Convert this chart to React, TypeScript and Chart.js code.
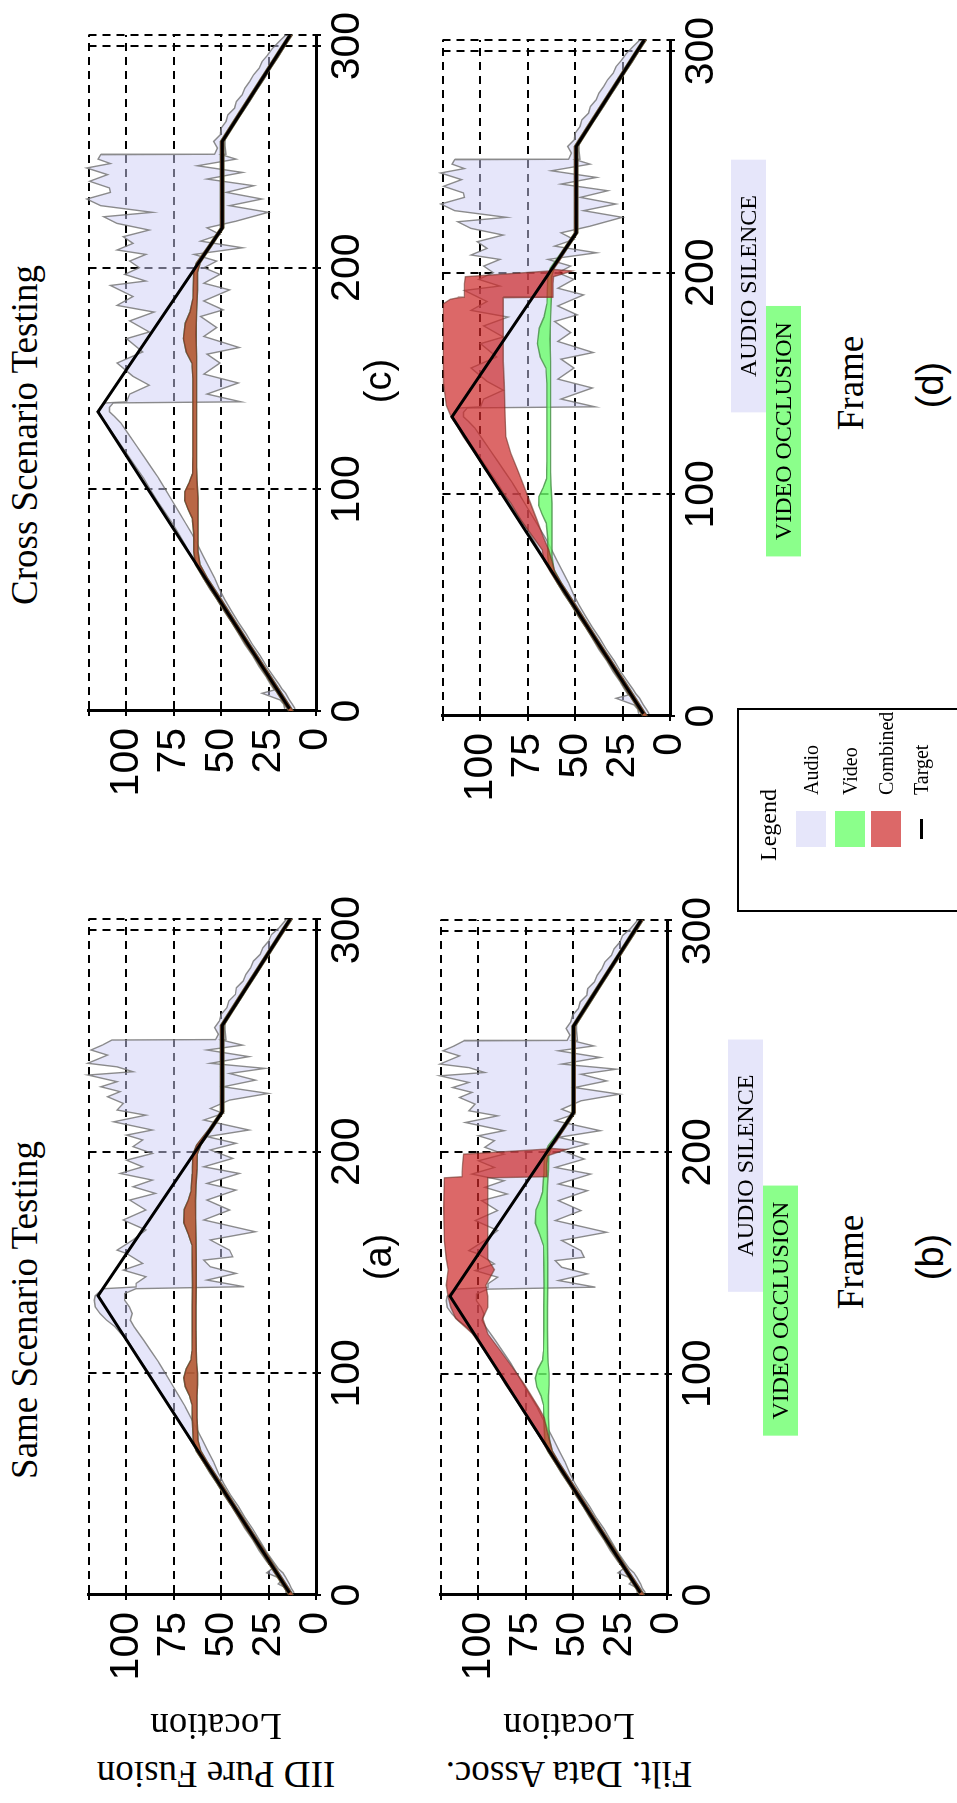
import React, { useEffect, useRef } from 'react';
import { Chart, registerables } from 'chart.js';

Chart.register(...registerables);

const SANS = '"Liberation Sans", Arial, Helvetica, sans-serif';
const SERIF = '"Liberation Serif", "Times New Roman", Times, serif';

// ---- axes ----
const FRAME_TICKS = [0, 100, 200, 300, 305];
const LOCATION_TICKS = [0, 25, 50, 75, 100, 120];
const FRAME_MAX = 305;
const LOCATION_MAX = 120;

// ---- sensor outage windows (frames) ----
const AUDIO_SILENCE = [137, 251];
const VIDEO_OCCLUSION = [72, 185];

// ---- ground truth trajectory [frame, location] ----
const target = [[1, 14], [135, 115], [218, 49.5], [257, 49.5], [305, 13.6]];

// ---- audio tracker, same-scenario test ----
const audioSameUpper = [
  [1, 16], [3, 15.5], [5, 20], [7, 17.5], [10, 26], [12, 23], [15, 26], [20, 30], [25, 33.5], [30, 37.5],
  [35, 41], [40, 44.5], [45, 48.5], [50, 52], [55, 56], [60, 59.5], [65, 63], [70, 66.5], [75, 70], [80, 73.5],
  [85, 77], [90, 81], [95, 84.5], [100, 88], [105, 92], [110, 96], [115, 99.5], [118, 103], [121, 106],
  [124, 110.5], [127, 114], [130, 116.5], [133, 117], [135, 116.5], [137, 114], [138.2, 112],
  [139, 94.9], [140.6, 94.9], [143.6, 89.8], [146.6, 101.7], [149.6, 91.5], [154.1, 100], [155.6, 105],
  [160.2, 96.6], [164.7, 89.8], [169.2, 101.7], [173.7, 89.8], [178.2, 98.3], [181.2, 84.7], [184.2, 96.6],
  [187.2, 86.4], [190.2, 103.4], [193.2, 91.5], [196.2, 100], [199.2, 86.4], [202.3, 96.6], [205.3, 91.5],
  [207.5, 100], [209.8, 86.4], [213.5, 106.8], [216.5, 89.8], [218.8, 105], [221.8, 101.7], [224.8, 110],
  [227.1, 103.4], [229.3, 113.6], [231.6, 105], [234.6, 120.4], [236.1, 96.6], [238.3, 105], [239.9, 120.4],
  [243.6, 110], [245.9, 118.7], [248.1, 112.8], [250.4, 107.7],
  [250.6, 53], [253, 51.5], [256, 53.5], [259, 51], [262, 50], [265, 47], [268, 46], [271, 42.5], [274, 42],
  [277, 38.5], [280, 37], [283, 34.5], [286, 33], [289, 29.5], [292, 28], [295, 25], [298, 23.5], [301, 19.5],
  [305, 15.5],
];
const audioSameLower = [
  [1, 11.5], [3, 13], [5, 14], [8, 16], [10, 17.5], [12, 20], [15, 22.5], [20, 26.5], [25, 30], [30, 33.5],
  [35, 37.5], [40, 41], [45, 45], [50, 48.5], [55, 51.5], [60, 54], [65, 57], [70, 60], [75, 63], [80, 66],
  [85, 69], [90, 72.5], [95, 76], [100, 79.5], [105, 83], [110, 87], [115, 91], [118, 93.5], [121, 96],
  [124, 98], [127, 97], [130, 98.5], [133, 101], [136, 101], [138.2, 95],
  [139.1, 37.9], [142.1, 57.5], [145.1, 42.2], [148.1, 55.8], [151.1, 59.2], [152.6, 43.9], [155.6, 45.6],
  [160.2, 55.8], [163.9, 32], [169.2, 59.2], [173.7, 45.6], [178.2, 57.5], [182.7, 42.2], [185.7, 57.5],
  [190.2, 40.5], [193.2, 59.2], [197, 43.9], [200.8, 55.8], [203.8, 42.2], [206.8, 57.5], [209.8, 35.4],
  [214.3, 59.2], [217.3, 49], [219.5, 55.8], [223.3, 45.6], [226.3, 25.2], [229.3, 49], [232.3, 32],
  [235.3, 45.6], [237.6, 26.9], [239.9, 55.8], [242.9, 35.4], [245.9, 57.5], [248.1, 38.8], [250.4, 49.8],
  [250.6, 47.5], [255, 48], [258, 48], [262, 45.5], [266, 42], [270, 39], [275, 35.5], [280, 31.5],
  [285, 28], [290, 24], [295, 20.5], [300, 16.5], [305, 13],
];

// ---- audio tracker, cross-scenario test ----
const audioCrossUpper = [
  [1, 16.5], [3, 17], [5, 19], [8, 28.5], [9.5, 22], [12, 24], [15, 26], [20, 30], [25, 33.5], [30, 37.5],
  [35, 41], [40, 44.5], [45, 48.5], [50, 52], [55, 56], [60, 59.5], [65, 62.5], [70, 66], [75, 69], [80, 72.5],
  [85, 76], [90, 80], [95, 84], [100, 87.5], [105, 91], [110, 95], [115, 99], [120, 103], [125, 107],
  [130, 111], [133, 114], [135, 115.5], [137, 114], [139, 111],
  [139.5, 100], [143, 98.3], [147, 88], [151, 96.6], [157, 105], [162, 91.5], [168, 100], [171, 88],
  [176, 98.3], [180, 85.5], [183, 105], [187, 96.6], [192, 108.5], [194, 89.8], [197, 100.9], [200, 93.2],
  [203, 98.3], [206, 89.8], [208, 105], [211, 96.6], [214, 101.7], [217, 88], [220, 105], [223, 112],
  [225, 86.4], [228, 113.6], [231, 121], [234, 108.5], [236, 109], [239, 119.5], [242, 110], [245, 121],
  [247, 108.5], [249, 115], [251, 113.6],
  [251.2, 53.5], [254, 52], [257, 54], [260, 50.5], [263, 50], [266, 47.5], [269, 46.5], [272, 43],
  [275, 42], [278, 39], [281, 37.5], [284, 35], [287, 33], [290, 30], [293, 28.5], [296, 25.5], [299, 23],
  [302, 19.5], [305, 16],
];
const audioCrossLower = [
  [1, 11], [3, 12.5], [5, 14], [8, 16], [10, 18], [12, 19.5], [15, 22], [20, 26], [25, 29.5], [30, 33.5],
  [35, 37], [40, 41], [45, 44.5], [50, 48], [55, 51], [60, 53.5], [65, 56.5], [70, 59.5], [75, 62.5],
  [80, 65.5], [85, 69], [90, 72.5], [95, 76], [100, 79.5], [105, 83], [110, 87], [115, 91], [120, 95],
  [125, 99], [130, 103], [133, 106.5], [135, 109], [137, 109], [139, 107],
  [139.5, 39.6], [143, 57.5], [148, 41], [152, 59.2], [157, 50.7], [161, 57.5], [164, 40.5], [169, 59.2],
  [173, 52.4], [178, 60.9], [181, 49], [185, 59.2], [190, 45.6], [193, 59.2], [197, 50.7], [200, 59.2],
  [203, 52.4], [206, 64.3], [209, 38.8], [212, 60.9], [215, 50.7], [218, 57.5], [221, 42.2], [225, 25.2],
  [228, 45.6], [231, 28.6], [234, 47.3], [237, 32.8], [240, 57.5], [243, 38.8], [246, 62.6], [249, 42.2],
  [251, 49.8],
  [251.2, 47.5], [255, 48], [258, 48], [262, 45.5], [266, 42.5], [270, 39], [275, 35], [280, 31.5],
  [285, 27.5], [290, 24], [295, 20], [300, 16.5], [305, 13],
];

// ---- video tracker, same-scenario test ----
const videoSameUpper = [
  [0, 14.3], [10, 21.8], [20, 29.3], [30, 36.9], [40, 44.4], [50, 51.9], [60, 59.5], [65, 63.2], [70, 64.8],
  [80, 65.3], [86, 65.5], [90, 66.8], [94, 69], [98, 69.8], [102, 68.5], [106, 66], [110, 65.5], [120, 65.3],
  [130, 65.3], [140, 65.2], [150, 65.3], [158, 65.5], [163, 67.5], [168, 69.8], [174, 69.5], [178, 67.5],
  [182, 66], [190, 65.3], [199, 65], [203, 63], [210, 56.7], [218, 50.4], [257, 50.4], [270, 40.7],
  [280, 33.2], [290, 25.7], [300, 18.2], [305, 14.4],
];
const videoSameLower = [
  [0, 12], [10, 19.6], [20, 27.1], [30, 34.7], [40, 42.2], [50, 49.7], [60, 57.3], [65, 60.8], [70, 62.3],
  [80, 62.8], [90, 62.8], [95, 62.5], [100, 62.5], [105, 63], [110, 63.2], [120, 63.3], [130, 63.3],
  [140, 63.2], [150, 63.2], [160, 63.3], [170, 63.5], [178, 63.6], [185, 63.3], [192, 62.8], [199, 62.6],
  [203, 60.8], [210, 54.9], [218, 48.6], [257, 48.6], [270, 38.9], [280, 31.4], [290, 23.9], [300, 16.4],
  [305, 12.6],
];

// ---- video tracker, cross-scenario test ----
const videoCrossUpper = [
  [0, 14.3], [10, 21.8], [20, 29.3], [30, 36.9], [40, 44.4], [50, 51.9], [60, 59.5], [66, 63.6], [72, 64.5],
  [80, 64.5], [87, 65.3], [91, 67.5], [95, 69.3], [99, 69.2], [103, 67], [107, 65.2], [115, 65], [130, 65],
  [150, 65], [157, 65.5], [162, 68.5], [168, 70], [175, 69], [180, 66.5], [186, 65], [198, 64.5],
  [202, 63.2], [210, 56.7], [218, 50.4], [257, 50.4], [270, 40.7], [280, 33.2], [290, 25.7], [300, 18.2],
  [305, 14.4],
];
const videoCrossLower = [
  [0, 12], [10, 19.6], [20, 27.1], [30, 34.7], [40, 42.2], [50, 49.7], [60, 57.3], [66, 61.2], [72, 62.3],
  [80, 62.3], [88, 62.3], [96, 62.3], [104, 62.8], [110, 63], [130, 63], [150, 63], [160, 63], [170, 63.3],
  [180, 63], [190, 62.5], [198, 62.5], [202, 61.2], [210, 54.9], [218, 48.6], [257, 48.6], [270, 38.9],
  [280, 31.4], [290, 23.9], [300, 16.4], [305, 12.6],
];

// ---- combined estimate with filtered data association ----
const filtSameUpper = [
  [0, 14.3], [10, 21.8], [20, 29.3], [30, 36.9], [40, 44.4], [50, 51.9], [60, 59.5], [65, 63.2], [70, 66.5],
  [76, 71], [80, 74], [88, 79.8], [95, 85.5], [103, 91], [110, 96.5], [118, 103], [125, 112], [130, 114.6],
  [134.6, 116], [140, 117], [147, 116], [152, 117], [160, 118], [175, 118.4], [188.5, 118], [189, 108.7],
  [195, 108.3], [199.2, 107.8], [201.5, 63.5], [205, 60.3], [210, 56.7], [218, 50.4], [257, 50.4],
  [270, 40.7], [280, 33.2], [290, 25.7], [300, 18.2], [305, 14.4],
];
const filtSameLower = [
  [0, 12], [10, 19.6], [20, 27.1], [30, 34.7], [40, 42.2], [50, 49.7], [60, 57.3], [65, 60.8], [70, 62.3],
  [76, 64], [80, 65], [84, 67.5], [88, 70.4], [95, 75.5], [103, 82], [110, 88], [118, 95], [125, 97.6],
  [130, 95], [135, 95], [140, 96], [147, 91.5], [152, 95], [160, 95], [175, 95], [188.5, 95], [189, 63.6],
  [195, 63.6], [198.5, 63.2], [201.3, 53.4], [201.8, 61.6], [205, 58.6], [210, 54.9], [218, 48.6],
  [257, 48.6], [270, 38.9], [280, 31.4], [290, 23.9], [300, 16.4], [305, 12.6],
];
const filtCrossUpper = [
  [0, 14.3], [10, 21.8], [20, 29.3], [30, 36.9], [40, 44.4], [50, 51.9], [60, 59.5], [65, 63.2], [70, 66.5],
  [75, 67.5], [81, 72.5], [88.4, 78.7], [96, 84], [103.5, 90.6], [111, 97.5], [118.5, 103], [126, 109],
  [131, 112.5], [135, 115.5], [140, 118], [150, 119.5], [160, 119.6], [175, 119.6], [186, 119.6],
  [188, 116], [188.7, 112], [189, 108.5], [195, 108.5], [198.2, 108], [200.8, 63.5], [205, 60.3],
  [210, 56.7], [218, 50.4], [257, 50.4], [270, 40.7], [280, 33.2], [290, 25.7], [300, 18.2], [305, 14.4],
];
const filtCrossLower = [
  [0, 12], [10, 19.6], [20, 27.1], [30, 34.7], [40, 42.2], [50, 49.7], [60, 57.3], [65, 60.8], [70, 62.3],
  [75, 64], [81, 67], [88.4, 70.2], [96, 73.6], [103.5, 77], [111, 80.4], [118.5, 84], [126, 86.6],
  [135, 87], [150, 87.5], [160, 88], [175, 88], [188.7, 88], [189, 61.7], [195, 61.7], [198.2, 61.5],
  [200.8, 51.5], [201.5, 61.5], [205, 58.6], [210, 54.9], [218, 48.6], [257, 48.6], [270, 38.9],
  [280, 31.4], [290, 23.9], [300, 16.4], [305, 12.6],
];

// ---- colours ----
const AUDIO_FILL = 'rgba(205,205,245,0.5)';
const AUDIO_EDGE = 'rgba(120,120,120,0.85)';
const VIDEO_FILL = 'rgba(110,255,110,0.8)';
const VIDEO_EDGE = 'rgba(70,140,70,0.8)';
const COMBINED_FILL = 'rgba(205,40,40,0.7)';
const COMBINED_EDGE = 'rgba(110,50,40,0.6)';
const AUDIO_SWATCH = 'rgb(230,230,250)';
const VIDEO_SWATCH = 'rgb(139,255,139)';
const COMBINED_SWATCH = 'rgb(220,104,104)';

const xy = (pts: number[][]) => pts.map(([x, y]) => ({ x, y }));

function band(lower: number[][], upper: number[][], fill: string, edge: string, order: number) {
  const common = { borderColor: edge, borderWidth: 1.4, backgroundColor: fill, pointRadius: 0, tension: 0, order, clip: 10 };
  return [
    { ...common, data: xy(lower), fill: false },
    { ...common, data: xy(upper), fill: '-1' },
  ];
}

// strips marking the outage windows under the frame axis
const outageStrips = {
  id: 'outageStrips',
  afterDraw(chart: any, _args: any, opts: any) {
    const strips = opts && opts.strips;
    if (!strips) return;
    const { ctx, chartArea } = chart;
    const xs = chart.scales.x;
    ctx.save();
    for (const s of strips) {
      const l = xs.getPixelForValue(s.range[0]);
      const r = xs.getPixelForValue(s.range[1]);
      const top = chartArea.bottom + s.offset;
      ctx.fillStyle = s.color;
      ctx.fillRect(l, top, r - l, s.height);
      ctx.fillStyle = '#000';
      ctx.font = `24px ${SERIF}`;
      ctx.textAlign = 'center';
      ctx.textBaseline = 'middle';
      ctx.fillText(s.label, (l + r) / 2, top + s.height / 2 + 1);
    }
    ctx.restore();
  },
};

type Area = { left: number; top: number; right: number; bottom: number };
type PanelCfg = {
  id: string;
  area: Area;
  audio: number[][][];
  video: number[][][];
  combined: number[][][];
  strips: boolean;
};

const PAD = { left: 120, top: 30, right: 30 };
const X_AXIS_H = 60;

const PANELS: PanelCfg[] = [
  { id: 'a', area: { left: 208, top: 82, right: 884, bottom: 316 }, audio: [audioSameLower, audioSameUpper], video: [videoSameLower, videoSameUpper], combined: [videoSameLower, videoSameUpper], strips: false },
  { id: 'c', area: { left: 1092, top: 82, right: 1768, bottom: 316 }, audio: [audioCrossLower, audioCrossUpper], video: [videoCrossLower, videoCrossUpper], combined: [videoCrossLower, videoCrossUpper], strips: false },
  { id: 'b', area: { left: 208, top: 434, right: 883, bottom: 667 }, audio: [audioSameLower, audioSameUpper], video: [videoSameLower, videoSameUpper], combined: [filtSameLower, filtSameUpper], strips: true },
  { id: 'd', area: { left: 1087, top: 436, right: 1763, bottom: 670 }, audio: [audioCrossLower, audioCrossUpper], video: [videoCrossLower, videoCrossUpper], combined: [filtCrossLower, filtCrossUpper], strips: true },
];

function padBottom(p: PanelCfg) {
  return p.strips ? 140 : 70;
}

function buildConfig(p: PanelCfg): any {
  const datasets = [
    { data: xy(target), borderColor: '#000', borderWidth: 3, pointRadius: 0, tension: 0, fill: false, order: 1, clip: 10 },
    ...band(p.combined[0], p.combined[1], COMBINED_FILL, COMBINED_EDGE, 2),
    ...band(p.video[0], p.video[1], VIDEO_FILL, VIDEO_EDGE, 3),
    ...band(p.audio[0], p.audio[1], AUDIO_FILL, AUDIO_EDGE, 4),
  ];
  const tickFont = { family: SANS, size: 41, lineHeight: 1.2 };
  const gridCommon = { color: '#000', lineWidth: 2, tickLength: 5, tickColor: '#000', tickWidth: 2, tickBorderDash: [] };
  const borderCommon = { display: true, color: '#000', width: 3, dash: [8, 6] };
  return {
    type: 'line',
    data: { datasets },
    plugins: [outageStrips],
    options: {
      animation: false,
      responsive: false,
      maintainAspectRatio: false,
      devicePixelRatio: 1,
      events: [],
      layout: { padding: { left: 0, top: PAD.top, right: PAD.right, bottom: padBottom(p) - X_AXIS_H } },
      plugins: {
        legend: { display: false },
        tooltip: { enabled: false },
        outageStrips: p.strips
          ? {
              strips: [
                { range: AUDIO_SILENCE, label: 'AUDIO SILENCE', color: AUDIO_SWATCH, offset: 61, height: 35 },
                { range: VIDEO_OCCLUSION, label: 'VIDEO OCCLUSION', color: VIDEO_SWATCH, offset: 96, height: 35 },
              ],
            }
          : {},
      },
      scales: {
        x: {
          type: 'linear',
          min: 0,
          max: FRAME_MAX,
          afterBuildTicks: (s: any) => { s.ticks = FRAME_TICKS.map((value) => ({ value })); },
          afterFit: (s: any) => { s.height = X_AXIS_H; },
          ticks: { autoSkip: false, maxRotation: 0, minRotation: 0, padding: 2, color: '#000', font: tickFont,
            callback: (v: number) => (v === FRAME_MAX ? '' : String(v)) },
          grid: gridCommon,
          border: borderCommon,
        },
        y: {
          type: 'linear',
          min: 0,
          max: LOCATION_MAX,
          afterBuildTicks: (s: any) => { s.ticks = LOCATION_TICKS.map((value) => ({ value })); },
          afterFit: (s: any) => { s.width = PAD.left; },
          ticks: { autoSkip: false, padding: 12, color: '#000', font: tickFont,
            callback: (v: number) => (v === LOCATION_MAX ? '' : String(v)) },
          grid: gridCommon,
          border: borderCommon,
        },
      },
    },
  };
}

function Panel({ p }: { p: PanelCfg }) {
  const ref = useRef<HTMLCanvasElement>(null);
  const w = p.area.right - p.area.left + PAD.left + PAD.right;
  const h = p.area.bottom - p.area.top + PAD.top + padBottom(p);
  useEffect(() => {
    const chart = new Chart(ref.current as HTMLCanvasElement, buildConfig(p));
    return () => chart.destroy();
  }, []);
  return (
    <canvas
      ref={ref}
      width={w}
      height={h}
      style={{ position: 'absolute', left: p.area.left - PAD.left, top: p.area.top - PAD.top, width: w, height: h }}
    />
  );
}

function Text({ x, y, size, font, children, rotate = 0 }: any) {
  return (
    <div
      style={{
        position: 'absolute', left: x, top: y, transform: `translate(-50%, -50%) rotate(${rotate}deg)`,
        fontFamily: font, fontSize: size, lineHeight: 1, whiteSpace: 'nowrap', color: '#000',
      }}
    >
      {children}
    </div>
  );
}

function LeftText({ x, y, size, children }: any) {
  return (
    <div style={{ position: 'absolute', left: x, top: y, transform: 'translateY(-50%)', fontFamily: SERIF, fontSize: size, lineHeight: 1, whiteSpace: 'nowrap', color: '#000' }}>
      {children}
    </div>
  );
}

const LEGEND_ITEMS = [
  { label: 'Audio', color: AUDIO_SWATCH, kind: 'box' },
  { label: 'Video', color: VIDEO_SWATCH, kind: 'box' },
  { label: 'Combined', color: COMBINED_SWATCH, kind: 'box' },
  { label: 'Target', color: '#000', kind: 'line' },
];

function Legend() {
  const left = 891;
  const top = 737;
  const rowY = [811, 850, 886, 921];
  return (
    <>
      <div style={{ position: 'absolute', left, top, width: 204, height: 260, border: '2px solid #000', boxSizing: 'border-box' }} />
      <Text x={978} y={768} size={24} font={SERIF}>Legend</Text>
      {LEGEND_ITEMS.map((it, i) => (
        <React.Fragment key={it.label}>
          {it.kind === 'box' ? (
            <div style={{ position: 'absolute', left: 956, top: rowY[i] - 15, width: 36, height: 30, background: it.color }} />
          ) : (
            <div style={{ position: 'absolute', left: 964, top: rowY[i] - 1, width: 20, height: 3, background: it.color }} />
          )}
          <LeftText x={1008} y={rowY[i]} size={20}>{it.label}</LeftText>
        </React.Fragment>
      ))}
    </>
  );
}

export default function App() {
  return (
    <div style={{ position: 'absolute', left: 0, top: 0, width: 957, height: 1803, overflow: 'hidden', background: '#fff' }}>
      <div
        style={{
          position: 'absolute', left: 0, top: 0, width: 1803, height: 957, background: '#fff',
          transformOrigin: '0 0', transform: 'translateY(1803px) rotate(-90deg)',
        }}
      >
        {PANELS.map((p) => <Panel key={p.id} p={p} />)}

        <Text x={493} y={23.5} size={37} font={SERIF}>Same Scenario Testing</Text>
        <Text x={1368} y={23.5} size={37} font={SERIF}>Cross Scenario Testing</Text>

        <Text x={28.5} y={216} size={37} font={SERIF} rotate={-90}>IID Pure Fusion</Text>
        <Text x={75.5} y={216} size={37} font={SERIF} rotate={-90}>Location</Text>
        <Text x={28.5} y={569} size={37} font={SERIF} rotate={-90}>Filt. Data Assoc.</Text>
        <Text x={75.5} y={569} size={37} font={SERIF} rotate={-90}>Location</Text>

        <Text x={546} y={378} size={38} font={SANS}>(a)</Text>
        <Text x={1422} y={378} size={38} font={SANS}>(c)</Text>
        <Text x={541} y={849.5} size={37} font={SERIF}>Frame</Text>
        <Text x={1420} y={849.5} size={37} font={SERIF}>Frame</Text>
        <Text x={546} y={930} size={38} font={SANS}>(b)</Text>
        <Text x={1418} y={930} size={38} font={SANS}>(d)</Text>

        <Legend />
      </div>
    </div>
  );
}
